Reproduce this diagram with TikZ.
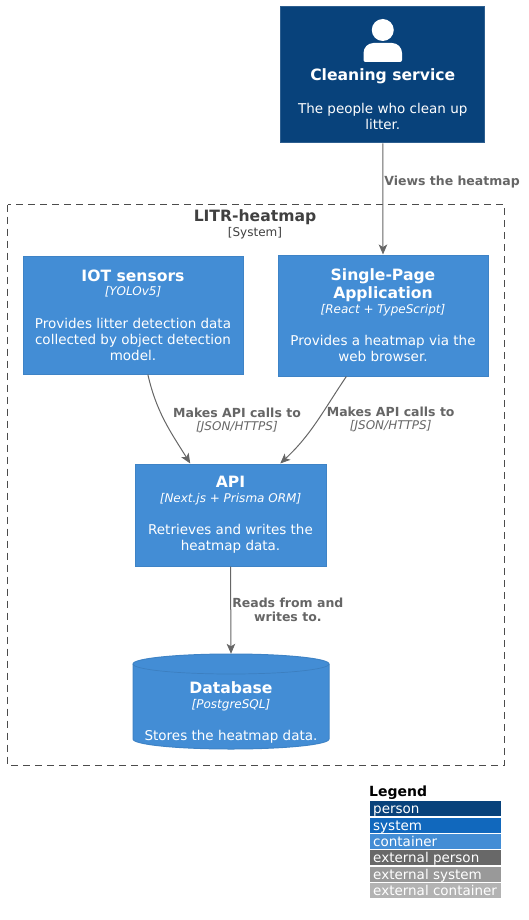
\documentclass[tikz,border=0pt]{standalone}
\usepackage{fontspec}
\setmainfont{DejaVu Sans}
\usetikzlibrary{arrows.meta,positioning}
\definecolor{personblue}{HTML}{08427B}
\definecolor{systemblue}{HTML}{1168BD}
\definecolor{containerblue}{HTML}{438DD5}
\definecolor{extperson}{HTML}{686868}
\definecolor{extsystem}{HTML}{999999}
\definecolor{extcontainer}{HTML}{B3B3B3}
\definecolor{edgegray}{HTML}{666666}
\newcommand{\boxname}[1]{{\fontsize{15.6}{18}\selectfont\bfseries #1}}
\newcommand{\boxtech}[1]{{\fontsize{12}{14}\selectfont\itshape #1}}
\begin{document}
\begin{tikzpicture}[x=1pt, y=-1pt,
    boxbase/.style={rectangle, text=white, align=center, inner sep=0pt, line width=1pt,
      font=\fontsize{13.5}{16}\selectfont},
    personbox/.style={boxbase, fill=personblue, draw=personblue!85!white},
    containerbox/.style={boxbase, fill=containerblue, draw=containerblue!93!black},
    link/.style={draw=edgegray, line width=1pt, -{Stealth[length=10pt, width=8.5pt, inset=2.5pt]}},
    linklabel/.style={text=edgegray, align=center, inner sep=0pt,
      font=\fontsize{12.5}{14}\selectfont\bfseries},
    legendrow/.style={rectangle, text=white, anchor=north west, inner sep=0pt, inner xsep=3pt,
      minimum width=131pt, minimum height=15pt, text width=125pt, align=flush left,
      text height=12pt, text depth=2pt, font=\fontsize{13.5}{15}\selectfont}]
  \useasboundingbox (0,0) rectangle (528,920);

  \node[personbox, minimum width=204pt, minimum height=136pt] (cleaning) at (382.75,75)
    {\mbox{}\\[45pt]\boxname{Cleaning service}\\[17pt]The people who clean up\\litter.};
  \fill[white] (cleaning.north) ++(0,23.5) circle (11);
  \fill[white, rounded corners=2pt] (363.5,62) -- (363.5,54) [rounded corners=10pt] -- (363.5,43) -- (402,43)
    [rounded corners=2pt] -- (402,62) -- cycle;

  \draw[dashed, dash pattern=on 7pt off 5pt, draw=black!70, line width=1pt] (7.5,204.5) rectangle (504.5,765);
  \node[align=center, inner sep=0pt, text=black!75, font=\fontsize{14}{14}\selectfont] (boundary) at (255,224)
    {\fontsize{15.6}{18}\selectfont\bfseries LITR-heatmap\\[1pt]\mdseries\fontsize{12}{14}\selectfont [System]};

  \node[containerbox, minimum width=220pt, minimum height=118pt] (iot) at (133,315)
    {\boxname{IOT sensors}\\[-1.5pt]\boxtech{[YOLOv5]}\\[16.5pt]Provides litter detection data\\collected by object detection\\model.};
  \node[containerbox, minimum width=210pt, minimum height=121pt] (spa) at (383,315.5)
    {\boxname{Single-Page}\\[2pt]\boxname{Application}\\[-1.5pt]\boxtech{[React + TypeScript]}\\[16.5pt]Provides a heatmap via the\\web browser.};
  \node[containerbox, minimum width=191pt, minimum height=102pt] (api) at (230.5,515)
    {\boxname{API}\\[-1.5pt]\boxtech{[Next.js + Prisma ORM]}\\[16.5pt]Retrieves and writes the\\heatmap data.};

  \filldraw[fill=containerblue, draw=containerblue!93!black, line width=1pt]
    (133,664) arc[start angle=180, end angle=0, x radius=98, y radius=-10]
    -- (329,739) arc[start angle=0, end angle=-180, x radius=98, y radius=-10] -- cycle;
  \draw[containerblue!90!black, line width=.7pt] (133,664) arc[start angle=180, end angle=360, x radius=98, y radius=-10];
  \node[text=white, align=center, inner sep=0pt, minimum width=196pt, minimum height=95pt, font=\fontsize{13.5}{16}\selectfont] (db) at (231,701.5)
    {\mbox{}\\[18pt]\boxname{Database}\\[-1.5pt]\boxtech{[PostgreSQL]}\\[16.5pt]Stores the heatmap data.};

  \draw[link] (cleaning.south) -- node[linklabel, anchor=west, xshift=1pt, pos=.35] {Views the heatmap} (spa.north);
  \draw[link] (iot.-76) to[out=-77, in=122] node[pos=.5, right=8pt, linklabel] {Makes API calls to\\[-1pt]\mdseries\itshape\fontsize{12}{14}\selectfont [JSON/HTTPS]} (api.128.5);
  \draw[link] (spa.239) to[out=-124, in=43] node[pos=.46, right=8pt, linklabel] {Makes API calls to\\[-1pt]\mdseries\itshape\fontsize{12}{14}\selectfont [JSON/HTTPS]} (api.46.4);
  \draw[link] (api.south) -- node[pos=.5, right=1pt, linklabel] {Reads from and\\writes to.} (db.north);

  \node[anchor=west, inner sep=0pt, font=\fontsize{14}{16}\selectfont\bfseries] (legend) at (369,793) {Legend};
  \node[legendrow, fill=personblue] (person) at (370,801) {person};
  \node[legendrow, fill=systemblue, below=1pt of person] (system) {system};
  \node[legendrow, fill=containerblue, below=1pt of system] (container) {container};
  \node[legendrow, fill=extperson, below=1pt of container] (externalperson) {external person};
  \node[legendrow, fill=extsystem, below=1pt of externalperson] (externalsystem) {external system};
  \node[legendrow, fill=extcontainer, below=1pt of externalsystem] (externalcontainer) {external container};
\end{tikzpicture}
\end{document}
